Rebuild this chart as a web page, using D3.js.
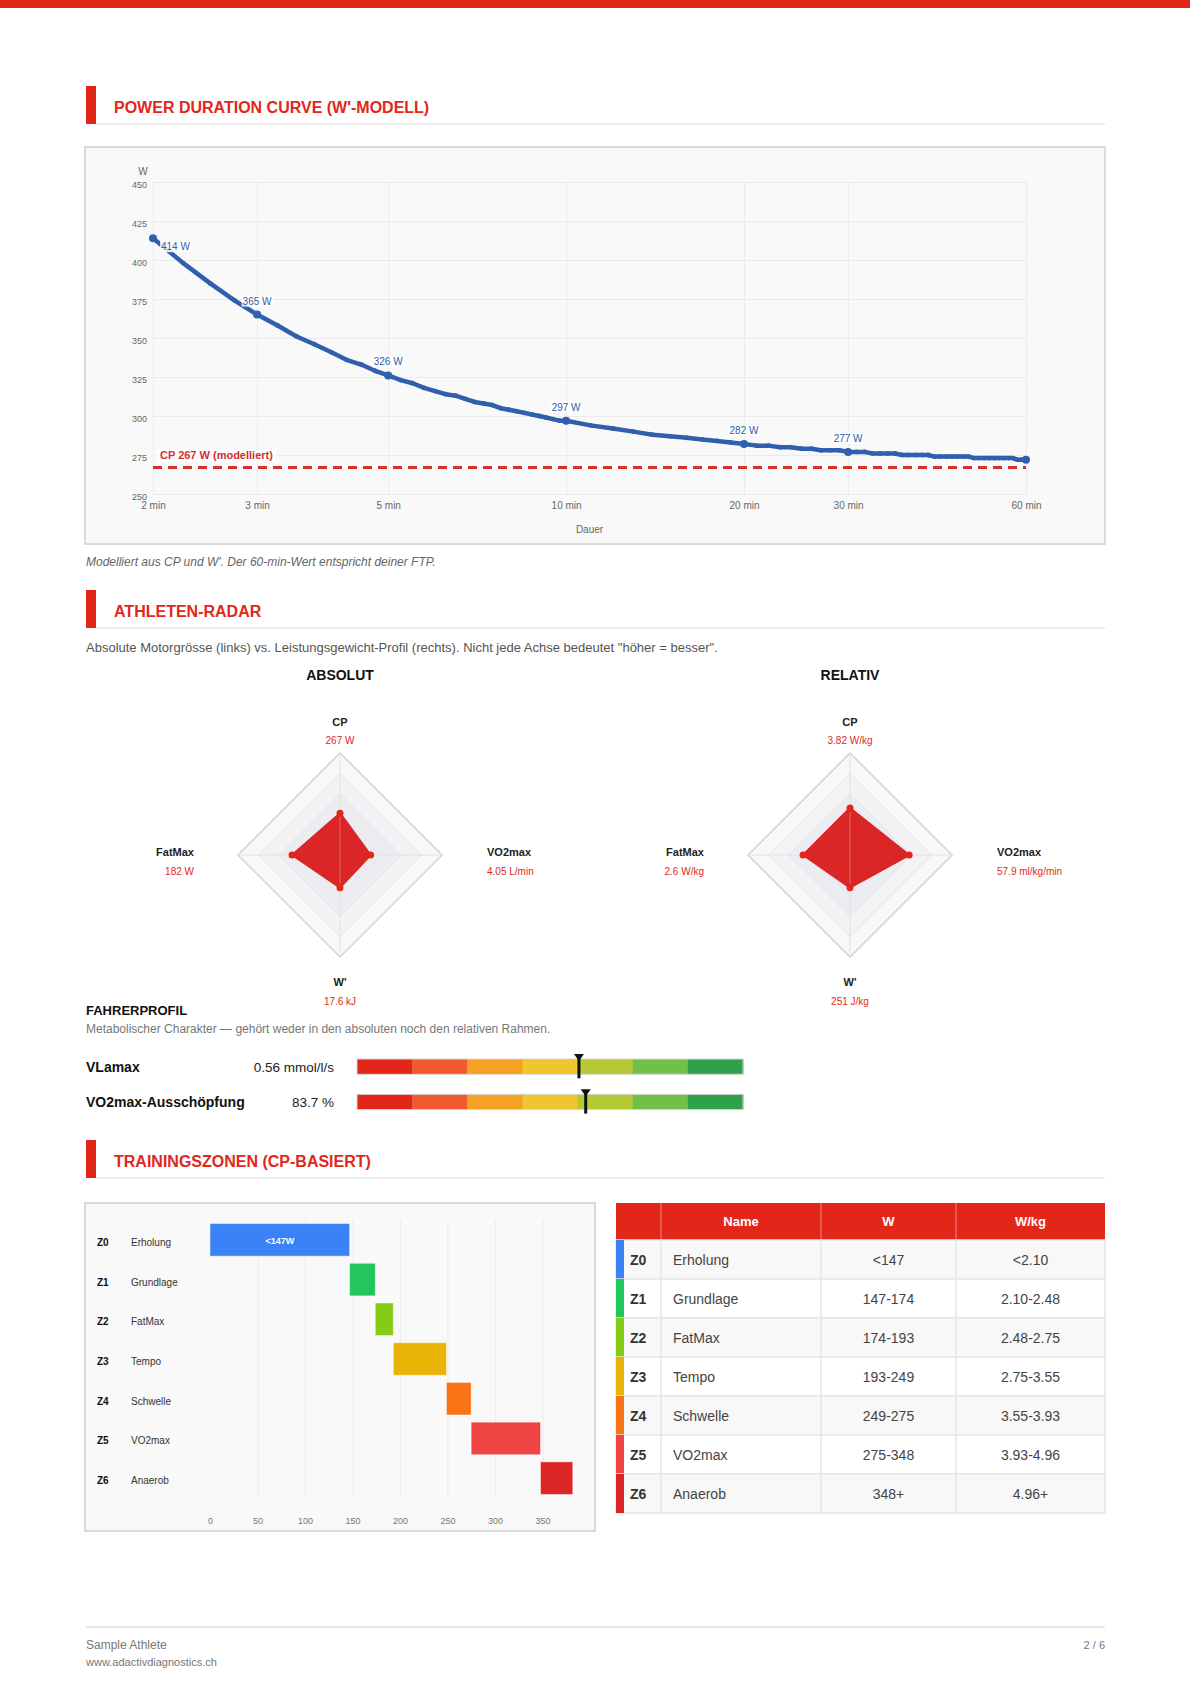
<!DOCTYPE html>
<html>
<head>
<meta charset="utf-8">
<script src="https://cdn.jsdelivr.net/npm/d3@7"></script>
<style>
body { margin: 0; background: #fff; }
svg { display: block; font-family: "Liberation Sans", Arial, Helvetica, sans-serif; }
</style>
</head>
<body>
<script>
// ---- data ----
var pdcMinutes = [2, 2.25, 2.5, 2.75, 3, 3.25, 3.5, 3.75, 4, 4.25, 4.5, 4.75, 5, 5.25, 5.5, 5.75,
	6, 6.25, 6.5, 6.75, 7, 7.25, 7.5, 7.75, 8, 8.25, 8.5, 8.75, 9, 9.25, 9.5, 9.75, 10,
	11, 12, 13, 14, 15, 16, 17, 18, 19, 20, 21, 22, 23, 24, 25, 26, 27, 28, 29, 30,
	31, 32, 33, 34, 35, 36, 37, 38, 39, 40, 41, 42, 43, 44, 45, 46, 47, 48, 49, 50,
	51, 52, 53, 54, 55, 56, 57, 58, 59, 60];
var pdcWatts = [414, 398, 385, 374, 365, 358, 351, 346, 341, 336, 333, 329, 326, 323, 321, 318,
	316, 314, 313, 311, 309, 308, 307, 305, 304, 303, 302, 301, 300, 299, 298, 297, 297,
	294, 292, 290, 288, 287, 286, 285, 284, 283, 282, 281, 281, 280, 280, 279, 279, 278, 278, 278, 277,
	277, 277, 276, 276, 276, 276, 275, 275, 275, 275, 275, 274, 274, 274, 274, 274, 274, 274, 273, 273,
	273, 273, 273, 273, 273, 273, 273, 272, 272, 272];
var pdcLabelMinutes = [2, 3, 5, 10, 20, 30];
var cpWatts = 267;
var pdcYTicks = [250, 275, 300, 325, 350, 375, 400, 425, 450];
var pdcXTicks = [2, 3, 5, 10, 20, 30, 60];

var radarAxes = ["CP", "VO2max", "W'", "FatMax"];
var absScores = [41, 30, 32, 47];
var absValues = ["267 W", "4.05 L/min", "17.6 kJ", "182 W"];
var relScores = [46, 58, 32, 46];
var relValues = ["3.82 W/kg", "57.9 ml/kg/min", "251 J/kg", "2.6 W/kg"];

var profileNames = ["VLamax", "VO2max-Ausschöpfung"];
var profileValues = [0.56, 83.7];
var profileText = ["0.56 mmol/l/s", "83.7 %"];
var profileDomains = [[0.1, 0.9], [60, 100]];
var scaleColors = ["#e3261a", "#f05a2e", "#f5a123", "#efc62e", "#b5c935", "#72c04a", "#2ea14a"];

var zoneIds = ["Z0", "Z1", "Z2", "Z3", "Z4", "Z5", "Z6"];
var zoneNames = ["Erholung", "Grundlage", "FatMax", "Tempo", "Schwelle", "VO2max", "Anaerob"];
var zoneFrom = [0, 147, 174, 193, 249, 275, 348];
var zoneTo = [147, 174, 193, 249, 275, 348, 382];
var zoneColors = ["#3b82f6", "#22c55e", "#84cc16", "#eab308", "#f97316", "#ef4444", "#dc2626"];
var zoneWatts = ["<147", "147-174", "174-193", "193-249", "249-275", "275-348", "348+"];
var zoneWkg = ["<2.10", "2.10-2.48", "2.48-2.75", "2.75-3.55", "3.55-3.93", "3.93-4.96", "4.96+"];
var zoneTicks = [0, 50, 100, 150, 200, 250, 300, 350];

// ---- page ----
var RED = "#e3261a", BLUE = "#2f5fad";
var svg = d3.select("body").append("svg").attr("width", 1190).attr("height", 1683);

svg.append("rect").attr("x", 0).attr("y", 0).attr("width", 1190).attr("height", 8).attr("fill", RED);

function sectionHeader(y0, title) {
	svg.append("rect").attr("x", 86).attr("y", y0).attr("width", 10).attr("height", 38).attr("fill", RED);
	svg.append("line").attr("x1", 96).attr("x2", 1105).attr("y1", y0 + 38).attr("y2", y0 + 38)
		.attr("stroke", "#e8e8e8").attr("stroke-width", 1.5);
	svg.append("text").attr("x", 114).attr("y", y0 + 27).attr("fill", RED)
		.attr("font-size", 16).attr("font-weight", "bold").text(title);
}

function labelBg(g, textSel, pad) {
	var b = textSel.node().getBBox();
	g.insert("rect", function () { return textSel.node(); })
		.attr("x", b.x - pad).attr("y", b.y).attr("width", b.width + 2 * pad).attr("height", b.height)
		.attr("fill", "#fff").attr("opacity", 0.85);
}

// ---- power duration curve ----
sectionHeader(86, "POWER DURATION CURVE (W'-MODELL)");

var pdc = svg.append("g");
pdc.append("rect").attr("x", 85).attr("y", 147).attr("width", 1020).attr("height", 397)
	.attr("fill", "#f9f9f9").attr("stroke", "#dadada").attr("stroke-width", 2);

var x = d3.scaleLog().domain([2, 60]).range([153, 1026]);
var y = d3.scaleLinear().domain([250, 450]).range([494, 182]);

var yAxis = pdc.append("g").attr("transform", "translate(153,0)")
	.call(d3.axisLeft(y).tickValues(pdcYTicks).tickSize(-873).tickPadding(6));
var xAxis = pdc.append("g").attr("transform", "translate(0,494)")
	.call(d3.axisBottom(x).tickValues(pdcXTicks).tickFormat(function (d) { return d + " min"; })
		.tickSize(-312).tickPadding(8));
[yAxis, xAxis].forEach(function (a) {
	a.select(".domain").remove();
	a.selectAll(".tick line").attr("stroke", "#ebebeb");
	a.selectAll(".tick text").attr("fill", "#666").attr("font-family", null);
});
yAxis.selectAll(".tick text").attr("font-size", 9).attr("dy", "0.62em");
xAxis.selectAll(".tick text").attr("font-size", 10);

pdc.append("text").attr("x", 143).attr("y", 175).attr("text-anchor", "middle")
	.attr("font-size", 10).attr("fill", "#666").text("W");
pdc.append("text").attr("x", 589.5).attr("y", 533).attr("text-anchor", "middle")
	.attr("font-size", 10).attr("fill", "#666").text("Dauer");

pdc.append("line").attr("x1", x(2)).attr("x2", x(60)).attr("y1", y(cpWatts)).attr("y2", y(cpWatts))
	.attr("stroke", "#d32f2f").attr("stroke-width", 3).attr("stroke-dasharray", "9,6");
var cpG = pdc.append("g");
var cpT = cpG.append("text").attr("x", 160).attr("y", y(cpWatts) - 8)
	.attr("font-size", 11).attr("font-weight", "bold").attr("fill", "#d32f2f")
	.text("CP " + cpWatts + " W (modelliert)");
labelBg(cpG, cpT, 3);

var pts = pdcMinutes.map(function (m, i) { return { m: m, w: pdcWatts[i] }; });
pdc.append("path").datum(pts)
	.attr("d", d3.line().x(function (d) { return x(d.m); }).y(function (d) { return y(d.w); }))
	.attr("fill", "none").attr("stroke", BLUE).attr("stroke-width", 4.5).attr("stroke-linejoin", "round");
pdc.selectAll("circle.pt").data(pts).enter().append("circle")
	.attr("cx", function (d) { return x(d.m); }).attr("cy", function (d) { return y(d.w); })
	.attr("r", function (d) { return (pdcLabelMinutes.indexOf(d.m) >= 0 || d.m === 60) ? 4 : 2.4; })
	.attr("fill", BLUE);

pdcLabelMinutes.forEach(function (m, i) {
	var d = pts[pdcMinutes.indexOf(m)];
	var g = pdc.append("g");
	var t = g.append("text").attr("font-size", 10).attr("fill", BLUE).text(d.w + " W");
	if (i === 0) {
		t.attr("x", x(d.m) + 8).attr("y", y(d.w) + 12);
	} else {
		t.attr("x", x(d.m)).attr("y", y(d.w) - 10).attr("text-anchor", "middle");
	}
	labelBg(g, t, 1);
});

svg.append("text").attr("x", 86).attr("y", 566).attr("font-size", 12).attr("font-style", "italic")
	.attr("fill", "#666").text("Modelliert aus CP und W'. Der 60-min-Wert entspricht deiner FTP.");

// ---- radar ----
sectionHeader(590, "ATHLETEN-RADAR");
svg.append("text").attr("x", 86).attr("y", 652).attr("font-size", 13).attr("fill", "#555")
	.text("Absolute Motorgrösse (links) vs. Leistungsgewicht-Profil (rechts). Nicht jede Achse bedeutet \"höher = besser\".");

function drawRadar(cx, cy, title, scores, values) {
	var g = svg.append("g");
	g.append("text").attr("x", cx).attr("y", 680).attr("text-anchor", "middle")
		.attr("font-size", 14).attr("font-weight", "bold").attr("fill", "#111").text(title);
	var r = d3.scaleLinear().domain([0, 100]).range([0, 102]);
	var ang = d3.scaleLinear().domain([0, radarAxes.length]).range([-Math.PI / 2, 1.5 * Math.PI]);
	function pt(i, v) { return [cx + r(v) * Math.cos(ang(i)), cy + r(v) * Math.sin(ang(i))]; }

	var levels = [100, 80, 60, 40, 20];
	var levelFill = ["#f8f8fa", "#f3f3f6", "#ededf1", "#ededf1", "#ededf1"];
	levels.forEach(function (lv, k) {
		g.append("polygon")
			.attr("points", radarAxes.map(function (a, i) { return pt(i, lv).join(","); }).join(" "))
			.attr("fill", levelFill[k]).attr("stroke", k === 0 ? "#d2d2d2" : "#e6e6ea")
			.attr("stroke-width", k === 0 ? 1.5 : 1);
	});
	radarAxes.forEach(function (a, i) {
		var p = pt(i, 100);
		g.append("line").attr("x1", cx).attr("y1", cy).attr("x2", p[0]).attr("y2", p[1])
			.attr("stroke", "#e2e2e2").attr("stroke-width", 1);
	});
	g.append("polygon")
		.attr("points", scores.map(function (s, i) { return pt(i, s).join(","); }).join(" "))
		.attr("fill", "#da2626").attr("stroke", "#da2626")
		.attr("stroke-width", 2).attr("stroke-linejoin", "round");
	var top = pt(0, 100), bot = pt(2, 100);
	g.append("line").attr("x1", cx).attr("x2", cx)
		.attr("y1", pt(0, scores[0])[1] + 4).attr("y2", pt(2, scores[2])[1] - 4)
		.attr("stroke", "rgba(255,255,255,0.3)").attr("stroke-width", 1);
	g.selectAll("circle.rd").data(scores).enter().append("circle")
		.attr("cx", function (s, i) { return pt(i, s)[0]; }).attr("cy", function (s, i) { return pt(i, s)[1]; })
		.attr("r", 3.5).attr("fill", "#e3261a");

	radarAxes.forEach(function (a, i) {
		var c = Math.cos(ang(i)), s = Math.sin(ang(i));
		var lx, ny, vy, anchor;
		if (Math.abs(c) < 0.01) {
			lx = cx; anchor = "middle";
			ny = s < 0 ? cy - 129 : cy + 131;
			vy = s < 0 ? cy - 111.5 : cy + 150;
		} else {
			lx = cx + (c > 0 ? 147 : -146); anchor = c > 0 ? "start" : "end";
			ny = cy + 1; vy = cy + 19.5;
		}
		g.append("text").attr("x", lx).attr("y", ny).attr("text-anchor", anchor)
			.attr("font-size", 11).attr("font-weight", "bold").attr("fill", "#222").text(a);
		g.append("text").attr("x", lx).attr("y", vy).attr("text-anchor", anchor)
			.attr("font-size", 10).attr("fill", "#e3261a").text(values[i]);
	});
}
drawRadar(340, 855, "ABSOLUT", absScores, absValues);
drawRadar(850, 855, "RELATIV", relScores, relValues);

// ---- fahrerprofil ----
svg.append("text").attr("x", 86).attr("y", 1014.5).attr("font-size", 13).attr("font-weight", "bold")
	.attr("fill", "#111").text("FAHRERPROFIL");
svg.append("text").attr("x", 86).attr("y", 1033).attr("font-size", 12).attr("fill", "#777")
	.text("Metabolischer Charakter — gehört weder in den absoluten noch den relativen Rahmen.");

var seg = d3.scaleBand().domain(d3.range(scaleColors.length)).range([357, 743]);
profileNames.forEach(function (name, i) {
	var top = 1059 + i * 35.3, h = 15.3;
	var g = svg.append("g");
	g.append("text").attr("x", 86).attr("y", top + h / 2 + 5).attr("font-size", 14).attr("font-weight", "bold")
		.attr("fill", "#111").text(name);
	g.append("text").attr("x", 334).attr("y", top + h / 2 + 5).attr("text-anchor", "end").attr("font-size", 13.5)
		.attr("fill", "#222").text(profileText[i]);
	g.selectAll("rect.seg").data(scaleColors).enter().append("rect")
		.attr("x", function (c, k) { return seg(k); }).attr("y", top)
		.attr("width", seg.bandwidth() + 0.5).attr("height", h).attr("fill", function (c) { return c; });
	g.append("rect").attr("x", 357).attr("y", top).attr("width", 386).attr("height", h)
		.attr("fill", "none").attr("stroke", "#d8d8d8").attr("stroke-width", 1);
	var m = d3.scaleLinear().domain(profileDomains[i]).range([357, 743]).clamp(true);
	var mx = m(profileValues[i]);
	g.append("line").attr("x1", mx).attr("x2", mx).attr("y1", top - 3).attr("y2", top + h + 4)
		.attr("stroke", "#111").attr("stroke-width", 3);
	g.append("path").attr("d", "M" + (mx - 5) + "," + (top - 5) + "L" + (mx + 5) + "," + (top - 5) + "L" + mx + "," + (top + 2) + "Z")
		.attr("fill", "#111");
});

// ---- trainingszonen ----
sectionHeader(1140, "TRAININGSZONEN (CP-BASIERT)");

var zg = svg.append("g");
zg.append("rect").attr("x", 85).attr("y", 1203).attr("width", 510).attr("height", 328)
	.attr("fill", "#f9f9f9").attr("stroke", "#dadada").attr("stroke-width", 2);
var zx = d3.scaleLinear().domain([0, 350]).range([210, 542.4]);
var zy = d3.scaleBand().domain(zoneIds).range([1220, 1498]).paddingInner(0.18).paddingOuter(0.09);
var zAxis = zg.append("g").attr("transform", "translate(0,1498)")
	.call(d3.axisBottom(zx).tickValues(zoneTicks).tickSize(-278).tickPadding(20));
zAxis.select(".domain").remove();
zAxis.selectAll(".tick line").attr("stroke", function (d) { return d === 0 ? "none" : "#ebebeb"; });
zAxis.selectAll(".tick text").attr("fill", "#777").attr("font-size", 9).attr("font-family", null);

zoneIds.forEach(function (z, i) {
	var cy = zy(z) + zy.bandwidth() / 2;
	zg.append("text").attr("x", 97).attr("y", cy + 6).attr("font-size", 10).attr("font-weight", "bold")
		.attr("fill", "#111").text(z);
	zg.append("text").attr("x", 131).attr("y", cy + 6).attr("font-size", 10).attr("fill", "#333").text(zoneNames[i]);
});
zg.selectAll("rect.zone").data(zoneIds).enter().append("rect")
	.attr("x", function (z, i) { return zx(zoneFrom[i]); })
	.attr("y", function (z) { return zy(z); })
	.attr("width", function (z, i) { return zx(zoneTo[i]) - zx(zoneFrom[i]); })
	.attr("height", zy.bandwidth())
	.attr("fill", function (z, i) { return zoneColors[i]; })
	.attr("stroke", "rgba(255,255,255,0.45)").attr("stroke-width", 1);
zg.append("text").attr("x", (zx(zoneFrom[0]) + zx(zoneTo[0])) / 2).attr("y", zy("Z0") + zy.bandwidth() / 2 + 4)
	.attr("text-anchor", "middle").attr("font-size", 9).attr("font-weight", "bold").attr("fill", "#fff")
	.text("<" + zoneTo[0] + "W");

// ---- table ----
var tg = svg.append("g");
var cols = [616, 661, 821, 956, 1105];
var headTop = 1203, headH = 37, rowH = 39;
tg.append("rect").attr("x", cols[0]).attr("y", headTop).attr("width", cols[4] - cols[0]).attr("height", headH).attr("fill", RED);
["", "Name", "W", "W/kg"].forEach(function (h, k) {
	if (k > 0) {
		tg.append("line").attr("x1", cols[k]).attr("x2", cols[k]).attr("y1", headTop).attr("y2", headTop + headH)
			.attr("stroke", "rgba(255,255,255,0.45)").attr("stroke-width", 1);
	}
	tg.append("text").attr("x", (cols[k] + cols[k + 1]) / 2).attr("y", headTop + headH / 2 + 4.5)
		.attr("text-anchor", "middle").attr("font-size", 13).attr("font-weight", "bold").attr("fill", "#fff").text(h);
});
zoneIds.forEach(function (z, i) {
	var top = headTop + headH + i * rowH, cy = top + rowH / 2 + 5;
	tg.append("rect").attr("x", cols[0]).attr("y", top).attr("width", cols[4] - cols[0]).attr("height", rowH)
		.attr("fill", i % 2 === 0 ? "#f8f8f8" : "#fff").attr("stroke", "#e6e6e6").attr("stroke-width", 1.5);
	tg.append("rect").attr("x", cols[0]).attr("y", top).attr("width", 8).attr("height", rowH).attr("fill", zoneColors[i]);
	[1, 2, 3].forEach(function (k) {
		tg.append("line").attr("x1", cols[k]).attr("x2", cols[k]).attr("y1", top).attr("y2", top + rowH)
			.attr("stroke", "#e6e6e6").attr("stroke-width", 1.5);
	});
	tg.append("text").attr("x", 630).attr("y", cy).attr("font-size", 14).attr("font-weight", "bold").attr("fill", "#333").text(z);
	tg.append("text").attr("x", 673).attr("y", cy).attr("font-size", 14).attr("fill", "#444").text(zoneNames[i]);
	tg.append("text").attr("x", (cols[2] + cols[3]) / 2).attr("y", cy).attr("text-anchor", "middle")
		.attr("font-size", 14).attr("fill", "#444").text(zoneWatts[i]);
	tg.append("text").attr("x", (cols[3] + cols[4]) / 2).attr("y", cy).attr("text-anchor", "middle")
		.attr("font-size", 14).attr("fill", "#444").text(zoneWkg[i]);
});

// ---- footer ----
svg.append("line").attr("x1", 86).attr("x2", 1105).attr("y1", 1627).attr("y2", 1627)
	.attr("stroke", "#e8e8e8").attr("stroke-width", 2);
svg.append("text").attr("x", 86).attr("y", 1649).attr("font-size", 12).attr("fill", "#777").text("Sample Athlete");
svg.append("text").attr("x", 86).attr("y", 1666).attr("font-size", 11).attr("fill", "#777").text("www.adactivdiagnostics.ch");
svg.append("text").attr("x", 1105).attr("y", 1649).attr("text-anchor", "end").attr("font-size", 11).attr("fill", "#777").text("2 / 6");
</script>
</body>
</html>
